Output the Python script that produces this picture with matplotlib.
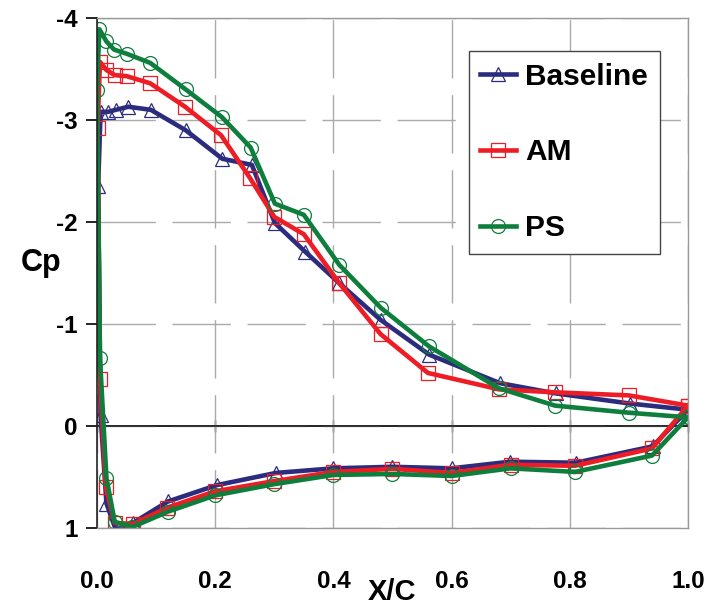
import matplotlib
matplotlib.use("Agg")
import matplotlib.pyplot as plt
from matplotlib import font_manager

plt.rcParams['axes.unicode_minus'] = False
names = {f.name for f in font_manager.fontManager.ttflist}
narrow = 'Liberation Sans Narrow' if 'Liberation Sans Narrow' in names else 'Liberation Sans'
plt.rcParams['font.family'] = [narrow, 'DejaVu Sans']

# ---- data: each series runs lower surface (LE -> TE) then upper surface (LE -> TE)
base_lower_x = [0.006, 0.016, 0.032, 0.061, 0.12, 0.2025, 0.303, 0.40, 0.50, 0.60, 0.699, 0.81, 0.94]
base_lower_cp = [-0.11, 0.76, 1.02, 0.95, 0.74, 0.58, 0.46, 0.415, 0.40, 0.415, 0.35, 0.36, 0.20]
base_upper_x = [0.002, 0.006, 0.019, 0.032, 0.053, 0.091, 0.15, 0.212, 0.262, 0.301, 0.352, 0.41, 0.48, 0.562, 0.682, 0.776, 0.902, 1.0]
base_upper_cp = [-2.35, -3.08, -3.08, -3.10, -3.13, -3.10, -2.90, -2.62, -2.56, -1.99, -1.71, -1.40, -1.04, -0.70, -0.42, -0.32, -0.22, -0.16]

am_lower_x = [0.005, 0.015, 0.030, 0.061, 0.119, 0.20, 0.30, 0.40, 0.50, 0.60, 0.70, 0.809, 0.939]
am_lower_cp = [-0.46, 0.60, 0.95, 0.96, 0.80, 0.64, 0.54, 0.45, 0.42, 0.46, 0.38, 0.39, 0.22]
am_upper_x = [0.001, 0.005, 0.016, 0.030, 0.050, 0.090, 0.149, 0.21, 0.259, 0.30, 0.35, 0.41, 0.48, 0.56, 0.68, 0.775, 0.90, 1.0]
am_upper_cp = [-2.92, -3.57, -3.49, -3.44, -3.43, -3.36, -3.13, -2.85, -2.43, -2.05, -1.88, -1.40, -0.90, -0.52, -0.36, -0.33, -0.30, -0.20]

ps_lower_x = [0.005, 0.016, 0.030, 0.060, 0.12, 0.20, 0.30, 0.40, 0.50, 0.60, 0.70, 0.809, 0.939]
ps_lower_cp = [-0.67, 0.51, 0.94, 0.99, 0.84, 0.68, 0.57, 0.48, 0.47, 0.49, 0.415, 0.45, 0.29]
ps_upper_x = [0.0, 0.004, 0.016, 0.029, 0.050, 0.090, 0.150, 0.211, 0.260, 0.301, 0.350, 0.41, 0.48, 0.562, 0.68, 0.775, 0.90, 1.0]
ps_upper_cp = [-3.29, -3.89, -3.77, -3.69, -3.65, -3.56, -3.30, -3.03, -2.73, -2.18, -2.07, -1.58, -1.16, -0.78, -0.37, -0.20, -0.13, -0.085]

series = [
    ("Baseline", base_lower_x, base_lower_cp, base_upper_x, base_upper_cp, '#2B2C7E', '^', 10.5),
    ("AM", am_lower_x, am_lower_cp, am_upper_x, am_upper_cp, '#EE1C25', 's', 9.5),
    ("PS", ps_lower_x, ps_lower_cp, ps_upper_x, ps_upper_cp, '#0E7E3C', 'o', 10),
]

fig = plt.figure(figsize=(7.07, 6.06), dpi=100)
ax = fig.add_axes([0.1372, 0.1287, 0.8359, 0.8416])

ax.axhline(0, color='#222222', lw=1.2, zorder=1.5)

for label, lx, lcp, ux, ucp, color, marker, ms in series:
    # closed loop: TE -> lower surface -> LE -> upper surface -> TE
    xs = [ux[-1]] + lx[::-1] + ux
    cps = [ucp[-1]] + lcp[::-1] + ucp
    ax.plot(xs, cps, color=color, lw=3.3, marker=marker, ms=ms, mfc='none',
            mec=color, mew=0.9, label=label, solid_joinstyle='round')

ax.set_xlim(0, 1)
ax.set_ylim(1, -4)
ax.set_xticks([0.0, 0.2, 0.4, 0.6, 0.8, 1.0])
ax.set_xticklabels(['0.0', '0.2', '0.4', '0.6', '0.8', '1.0'])
ax.set_yticks([-4, -3, -2, -1, 0, 1])
ax.set_yticklabels(['-4', '-3', '-2', '-1', '0', '1'])

ax.grid(True, color='#AAAAAA', lw=1.0, ls=(0, (42, 12)))
ax.set_axisbelow(True)
for s in ['top', 'right', 'bottom']:
    ax.spines[s].set_color('#999999')
    ax.spines[s].set_linewidth(1.0)
ax.spines['left'].set_color('#222222')
ax.spines['left'].set_linewidth(1.2)

ax.tick_params(axis='x', length=0, pad=30, labelsize=17.5)
ax.tick_params(axis='y', direction='out', length=8, width=1.2, pad=6, labelsize=17.5)
for t in ax.get_xticklabels() + ax.get_yticklabels():
    t.set_fontweight('bold')

# x axis line through Cp = 0
sec = ax.secondary_xaxis(0.2)
sec.spines['bottom'].set_color('#222222')
sec.spines['bottom'].set_linewidth(1.2)
sec.set_xticks([0.0, 0.2, 0.4, 0.6, 0.8, 1.0])
sec.tick_params(direction='inout', length=8, width=1.0, labelbottom=False)

ax.set_xlabel('X/C', fontsize=21, fontweight='bold', va='center')
ax.xaxis.set_label_coords(0.499, -0.125)
ax.set_ylabel('Cp', fontsize=22, fontweight='bold', rotation=0, va='center',
              family=['Liberation Sans', 'DejaVu Sans'])
ax.yaxis.set_label_coords(-0.095, 0.52)

leg = ax.legend(loc='upper right', bbox_to_anchor=(0.9526, 0.936), borderaxespad=0,
                fancybox=False, edgecolor='#444444', framealpha=1,
                prop={'family': 'Liberation Sans', 'weight': 'bold', 'size': 21.5},
                handlelength=1.2, handletextpad=0.3, labelspacing=1.6,
                borderpad=0.4)
leg.get_frame().set_linewidth(1.0)

fig.savefig('out.png', dpi=100)
